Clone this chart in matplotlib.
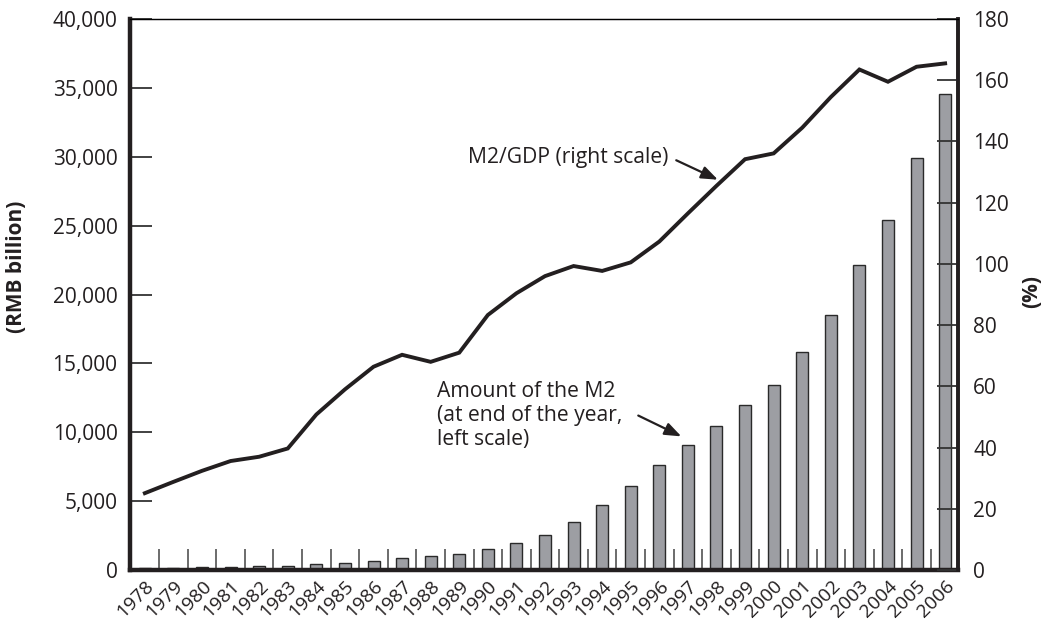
import numpy as np
from matplotlib import pyplot as plt

plt.rcParams['font.family'] = ['Open Sans', 'DejaVu Sans']

# datos
years = list(range(1978, 2007))
m2 = [115.9, 145.8, 184.3, 223.5, 257.4, 307.5, 414.6, 519.9, 672.1, 835.0,
      1009.9, 1195.0, 1529.4, 1934.9, 2540.2, 3487.9, 4692.3, 6075.1, 7609.5,
      9099.5, 10449.8, 11989.8, 13461.0, 15830.2, 18500.7, 22122.3, 25410.7,
      29875.6, 34560.4]  # RMB billion
m2_gdp = [25.1, 28.8, 32.4, 35.6, 37.0, 39.7, 50.8, 59.0, 66.4, 70.3,
          68.0, 71.0, 83.3, 90.4, 96.0, 99.3, 97.7, 100.5, 107.3, 116.5,
          125.5, 134.2, 136.1, 144.5, 154.5, 163.5, 159.5, 164.4, 165.5]  # %
left_ticks = [0, 5000, 10000, 15000, 20000, 25000, 30000, 35000, 40000]
right_ticks = [0, 20, 40, 60, 80, 100, 120, 140, 160, 180]

INK = '#231f20'
FS = 15

fig = plt.figure(figsize=(10.52, 6.27), dpi=100)
ax = fig.add_axes([130/1052, 57/627, 828/1052, 551/627])
x = np.arange(len(years))

ax.bar(x, m2, width=0.42, color='#9d9ea3', edgecolor='#2a2a2a', linewidth=1.0, zorder=2)
ax.set_xlim(-0.52, len(years) - 0.55)
ax.set_ylim(0, 40000)
ax.set_yticks(left_ticks)
ax.set_yticklabels(['{:,}'.format(v) for v in left_ticks])
ax.set_xticks(x)
ax.set_xticklabels([str(y) for y in years], rotation=45, ha='right', va='top',
                   rotation_mode='anchor')
# separadores entre barras
ax.set_xticks(x[:-1] + 0.5, minor=True)
ax.tick_params(axis='x', which='major', length=0, pad=5, labelsize=13.8, colors=INK)
ax.tick_params(axis='x', which='minor', direction='in', length=15, width=1.1, color='#444444')
ax.tick_params(axis='y', direction='in', length=15.5, width=1.3, pad=9, labelsize=FS,
               colors=INK, color='#333333')

ax.spines['left'].set_linewidth(3.2)
ax.spines['bottom'].set_linewidth(3.2)
ax.spines['right'].set_linewidth(2.6)
ax.spines['top'].set_linewidth(0.9)
for s in ax.spines.values():
    s.set_color(INK)

ax2 = ax.twinx()
ax2.plot(x, m2_gdp, color=INK, linewidth=2.8, solid_joinstyle='miter')
ax2.set_ylim(0, 180)
ax2.set_yticks(right_ticks)
ax2.tick_params(axis='y', direction='in', length=15, width=1.3, pad=11, labelsize=FS,
                colors=INK, color='#333333')
ax2.spines['right'].set_linewidth(2.6)
ax2.spines['right'].set_color(INK)
ax2.spines['top'].set_linewidth(0.9)
ax2.spines['left'].set_visible(False)
ax2.spines['bottom'].set_visible(False)

# etiquetas de ejes
fig.text(17/1052, 1 - 267/627, '(RMB billion)', rotation=90, ha='center', va='center',
         fontsize=FS, fontweight='bold', color=INK)
fig.text(1032/1052, 1 - 292/627, '(%)', rotation=90, ha='center', va='center',
         fontsize=FS, fontweight='bold', color=INK)

# anotaciones
arrow = dict(arrowstyle='-|>,head_length=1.0,head_width=0.38', color=INK, lw=1.6,
             shrinkA=0, shrinkB=0)
ax2.annotate('', xy=(20.05, m2_gdp[20] + 2), xytext=(-30, 14), textcoords='offset points',
             arrowprops=arrow)
ax.text(0.65, 0.749, 'M2/GDP (right scale)', transform=ax.transAxes, ha='right',
        va='center', fontsize=15.2, color=INK)
ax.annotate('', xy=(19 - 0.23, m2[19] + 600), xytext=(-31, 15), textcoords='offset points',
            arrowprops=arrow)
ax.text(0.3704, 0.343, 'Amount of the M2\n(at end of the year,\nleft scale)',
        transform=ax.transAxes, ha='left', va='top', fontsize=15.2, color=INK)

fig.savefig('out.png', dpi=100)
